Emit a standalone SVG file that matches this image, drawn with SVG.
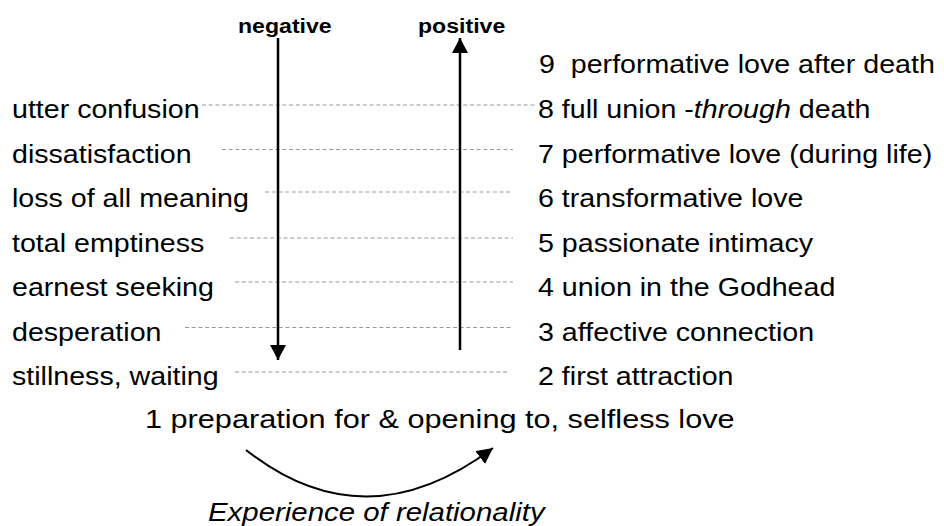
<svg xmlns="http://www.w3.org/2000/svg" width="944" height="526" viewBox="0 0 944 526">
<style>
.t{font-family:"Liberation Sans",Arial,sans-serif;font-size:26px;fill:#000}
.b{font-family:"Liberation Sans",Arial,sans-serif;font-size:21px;font-weight:bold;fill:#000}
.d{stroke:#999;stroke-width:1;stroke-dasharray:4 2.7;fill:none}
.a{stroke:#000;stroke-width:2.5;fill:none}
</style>
<defs>
<marker id="ah" markerUnits="userSpaceOnUse" markerWidth="16" markerHeight="16" viewBox="0 0 14 15" refX="14" refY="7.5" orient="auto">
<path d="M0,0 L14,7.5 L0,15 Z" fill="#000"/>
</marker>
<marker id="ah2" markerUnits="userSpaceOnUse" markerWidth="16" markerHeight="16" viewBox="0 0 15 15" refX="15" refY="7.5" orient="auto">
<path d="M0,0 L15,7.5 L0,15 Z" fill="#000"/>
</marker>
</defs>
<g id="connectors">
<line class="d" x1="202" y1="105" x2="537" y2="105"/>
<line class="d" x1="222" y1="149.5" x2="513" y2="149.5"/>
<line class="d" x1="265" y1="192" x2="513" y2="192"/>
<line class="d" x1="230" y1="238" x2="513" y2="238"/>
<line class="d" x1="235" y1="282" x2="513" y2="282"/>
<line class="d" x1="185" y1="327.5" x2="513" y2="327.5"/>
<line class="d" x1="235" y1="372" x2="508" y2="372"/>
<line class="a" x1="278" y1="38" x2="278" y2="360" marker-end="url(#ah)"/>
<line class="a" x1="460" y1="350" x2="460" y2="38" marker-end="url(#ah)"/>
<path class="a" style="stroke-width:2" d="M246,450 Q365,544 493,448" marker-end="url(#ah2)"/>
</g>
<g id="labels">
<text class="b" transform="translate(238,33) scale(1.1,1)">negative</text>
<text class="b" transform="translate(418,33) scale(1.1,1)">positive</text>
</g>
<g id="left">
<text class="t" transform="translate(12,118) scale(1.1,1)">utter confusion</text>
<text class="t" transform="translate(12,162.5) scale(1.1,1)">dissatisfaction</text>
<text class="t" transform="translate(12,207) scale(1.1,1)">loss of all meaning</text>
<text class="t" transform="translate(12,251.5) scale(1.1,1)">total emptiness</text>
<text class="t" transform="translate(12,296) scale(1.1,1)">earnest seeking</text>
<text class="t" transform="translate(12,340.5) scale(1.1,1)">desperation</text>
<text class="t" transform="translate(12,385) scale(1.1,1)">stillness, waiting</text>
</g>
<g id="right">
<text class="t" transform="translate(539,73) scale(1.1,1)" xml:space="preserve">9  performative love after death</text>
<text class="t" transform="translate(538,118) scale(1.1,1)">8 full union -<tspan font-style="italic">through</tspan> death</text>
<text class="t" transform="translate(538,162.5) scale(1.1,1)">7 performative love (during life)</text>
<text class="t" transform="translate(538,207) scale(1.1,1)">6 transformative love</text>
<text class="t" transform="translate(538,251.5) scale(1.1,1)">5 passionate intimacy</text>
<text class="t" transform="translate(538,296) scale(1.1,1)">4 union in the Godhead</text>
<text class="t" transform="translate(538,340.5) scale(1.1,1)">3 affective connection</text>
<text class="t" transform="translate(538,385) scale(1.1,1)">2 first attraction</text>
</g>
<g id="bottom">
<text class="t" transform="translate(145,428) scale(1.1,1)" textLength="536" lengthAdjust="spacingAndGlyphs">1 preparation for &amp; opening to, selfless love</text>
<text class="t" font-style="italic" transform="translate(208,521) scale(1.1,1)" textLength="306" lengthAdjust="spacingAndGlyphs">Experience of relationality</text>
</g>
</svg>
